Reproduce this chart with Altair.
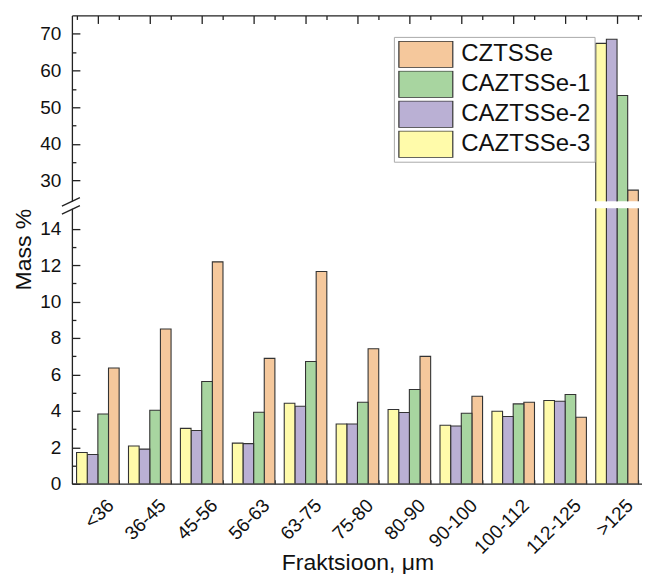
import altair as alt
import pandas as pd

# ---- data ----
groups = ["<36", "36-45", "45-56", "56-63", "63-75", "75-80", "80-90",
          "90-100", "100-112", "112-125", ">125"]
series = ["CZTSSe", "CAZTSSe-1", "CAZTSSe-2", "CAZTSSe-3"]
bar_order = ["CAZTSSe-3", "CAZTSSe-2", "CAZTSSe-1", "CZTSSe"]
colors = ["#F5C89C", "#A8D5A0", "#BAB0D4", "#FFFBAA"]

cztsse = [6.35, 8.49, 12.18, 6.88, 11.65, 7.41, 6.99, 4.80, 4.47, 3.65, 27.4]
caztsse_1 = [3.83, 4.03, 5.61, 3.92, 6.71, 4.47, 5.17, 3.87, 4.38, 4.90, 53.2]
caztsse_2 = [1.60, 1.90, 2.92, 2.20, 4.25, 3.28, 3.91, 3.17, 3.69, 4.53, 68.5]
caztsse_3 = [1.71, 2.07, 3.04, 2.23, 4.42, 3.28, 4.07, 3.21, 3.98, 4.57, 67.4]

upper_ticks = [30, 35, 40, 45, 50, 55, 60, 65, 70]
lower_ticks = [0, 1, 2, 3, 4, 5, 6, 7, 8, 9, 10, 11, 12, 13, 14]
upper_domain = [24.4, 75]
lower_domain = [0, 15.13]

rows = []
for s, vals in zip(series, [cztsse, caztsse_1, caztsse_2, caztsse_3]):
    for g, v in zip(groups, vals):
        rows.append({"group": g, "series": s, "value": v})
df = pd.DataFrame(rows)
one = pd.DataFrame({"k": [0]})

FONT = "Liberation Sans"
AX = "#222222"
W, H_UP, H_LO = 572, 186, 276

xscale = alt.Scale(domain=groups, paddingInner=0.18, paddingOuter=0.09)
xoff = alt.XOffset("series:N",
                   scale=alt.Scale(domain=bar_order, paddingInner=0, paddingOuter=0))

legend = alt.Legend(
    orient="none", legendX=322.5, legendY=21.5, title=None,
    symbolType="M-2,-0.988H2V0.988H-2Z", symbolSize=729, symbolOffset=13.5,
    symbolStrokeColor="#333333", symbolStrokeWidth=1.2, symbolOpacity=1,
    labelFont=FONT, labelFontSize=24, labelColor="#111111", labelOffset=21,
    labelLimit=400, rowPadding=3, clipHeight=27, padding=4,
    strokeColor="#AAAAAA", fillColor="white",
)

bar_mark = dict(clip=True, stroke="#333333", strokeWidth=1.1)

# ---------- upper panel ----------
bars_up = alt.Chart(df).mark_bar(**bar_mark).encode(
    x=alt.X("group:N", scale=xscale, title=None,
            axis=alt.Axis(orient="top", labels=False, title=None,
                          tickSize={"expr": "-8"})),
    xOffset=xoff,
    y=alt.Y("value:Q", scale=alt.Scale(domain=upper_domain, nice=False, zero=False),
            axis=alt.Axis(values=upper_ticks, title=None, grid=False,
                          labelExpr="datum.value % 10 === 0 ? datum.label : ''",
                          tickSize={"expr": "datum.value % 10 === 0 ? -8 : -4"},
                          labelPadding=19)),
    y2=alt.datum(0),
    color=alt.Color("series:N", scale=alt.Scale(domain=series, range=colors),
                    legend=legend),
)

minor_up = alt.Chart(df).mark_point(opacity=0).encode(
    x=alt.X("group:N", scale=xscale,
            axis=alt.Axis(orient="top", labels=False, title=None, domain=False,
                          tickBand="extent", tickSize={"expr": "-4"})),
)

slash_up = alt.Chart(one).mark_rule(color=AX, strokeWidth=1.3).encode(
    x=alt.value(-10), x2=alt.value(8),
    y=alt.value(H_UP + 5), y2=alt.value(H_UP - 3.5),
)

upper = alt.layer(bars_up, minor_up, slash_up).resolve_axis(x="independent").properties(
    width=W, height=H_UP)

# ---------- lower panel ----------
bars_lo = alt.Chart(df).mark_bar(**bar_mark).encode(
    x=alt.X("group:N", scale=xscale,
            axis=alt.Axis(orient="bottom", title="Fraktsioon, μm",
                          labelAngle=-45, labelAlign="right", labelBaseline="top",
                          labelPadding=16, labelOffset=6, labelFontSize=19,
                          labelOverlap=False,
                          tickBand="extent", tickSize={"expr": "-4"},
                          titleY=86, titleBaseline="alphabetic")),
    xOffset=xoff,
    y=alt.Y("value:Q", scale=alt.Scale(domain=lower_domain, nice=False, zero=True),
            axis=alt.Axis(values=lower_ticks, title="Mass %", grid=False,
                          labelExpr="datum.value % 2 === 0 ? datum.label : ''",
                          tickSize={"expr": "datum.value % 2 === 0 ? -8 : -4"},
                          labelPadding=19,
                          titleAngle=270, titleX=-41, titleY=41,
                          titleAlign="center", titleBaseline="alphabetic")),
    y2=alt.datum(0),
    color=alt.Color("series:N", scale=alt.Scale(domain=series, range=colors),
                    legend=None),
)

slash_lo = alt.Chart(one).mark_rule(color=AX, strokeWidth=1.3).encode(
    x=alt.value(-10), x2=alt.value(8),
    y=alt.value(6), y2=alt.value(-2.5),
)

lower = alt.layer(bars_lo, slash_lo).properties(width=W, height=H_LO)

chart = alt.vconcat(upper, lower, spacing=7, bounds="flush").resolve_scale(
    x="independent", y="independent", color="independent"
).properties(
    padding={"left": 5, "top": 6, "right": -1, "bottom": -1}
).configure_view(stroke=None).configure_axis(
    domainColor=AX, tickColor=AX, domainWidth=1.3, tickWidth=1.3,
    labelFont=FONT, labelFontSize=19, labelColor="#111111",
    titleFont=FONT, titleFontSize=23, titleFontWeight="normal", titleColor="#111111",
)

chart.save("out.html", embed_options={"renderer": "svg", "actions": False})
